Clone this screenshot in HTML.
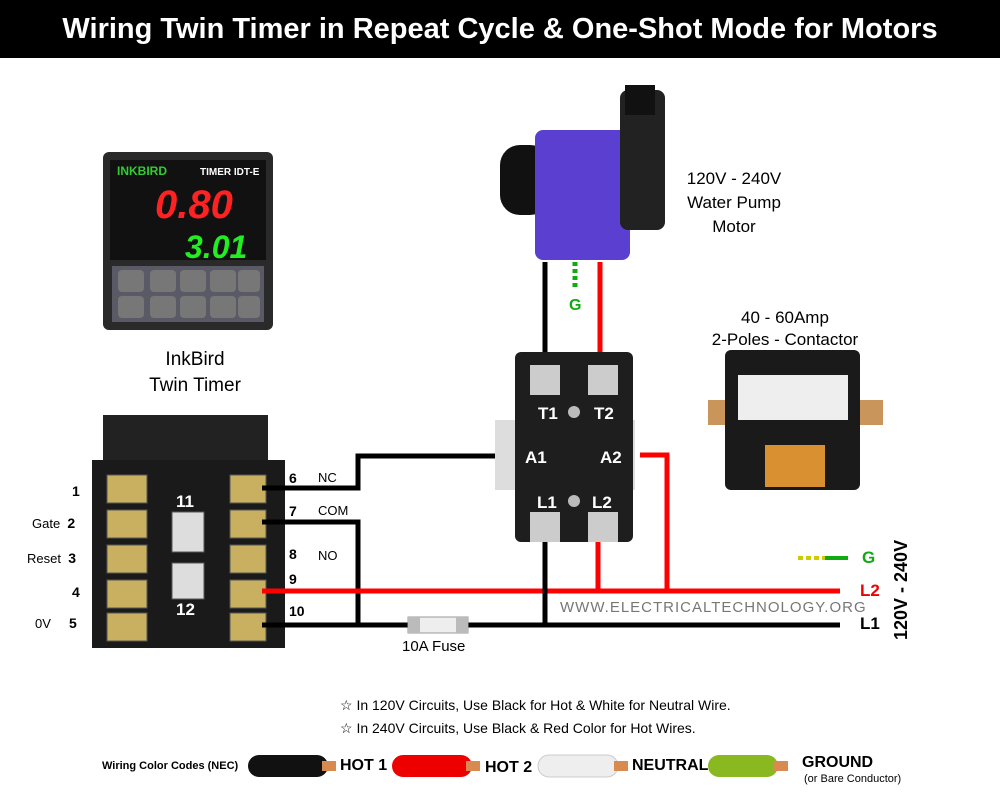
<!DOCTYPE html>
<html><head><meta charset="utf-8"><style>
body{margin:0;width:1000px;height:800px;background:#fff;overflow:hidden;font-family:"Liberation Sans",sans-serif;}
.t{position:absolute;font-weight:bold;color:#000;}
</style></head><body>
<div style="position:absolute;left:0;top:0;width:1000px;height:58px;background:#000;color:#fff;font-weight:bold;font-size:29px;text-align:center;line-height:58px;">Wiring Twin Timer in Repeat Cycle &amp; One-Shot Mode for Motors</div>
<svg width="1000" height="800" style="position:absolute;left:0;top:0">
<rect x="103" y="152" width="170" height="178" rx="6" fill="#2a2a2a"/>
<rect x="110" y="160" width="156" height="100" fill="#111"/>
<text x="117" y="175" font-size="12" fill="#3c3" font-weight="bold" font-family="Liberation Sans">INKBIRD</text>
<text x="200" y="175" font-size="10" fill="#fff" font-weight="bold" font-family="Liberation Sans">TIMER IDT-E</text>
<text x="155" y="218" font-size="40" fill="#f22" font-weight="bold" font-style="italic" font-family="Liberation Sans">0.80</text>
<text x="185" y="258" font-size="32" fill="#2e2" font-weight="bold" font-style="italic" font-family="Liberation Sans">3.01</text>
<rect x="112" y="266" width="152" height="56" fill="#5a5a66"/>
<g fill="#777"><rect x="118" y="270" width="26" height="22" rx="4"/><rect x="118" y="296" width="26" height="22" rx="4"/>
<rect x="150" y="270" width="26" height="22" rx="4"/><rect x="150" y="296" width="26" height="22" rx="4"/>
<rect x="180" y="270" width="26" height="22" rx="4"/><rect x="180" y="296" width="26" height="22" rx="4"/>
<rect x="210" y="270" width="26" height="22" rx="4"/><rect x="210" y="296" width="26" height="22" rx="4"/>
<rect x="238" y="270" width="22" height="22" rx="4"/><rect x="238" y="296" width="22" height="22" rx="4"/></g>
<rect x="103" y="415" width="165" height="60" fill="#222"/>
<rect x="92" y="460" width="193" height="188" fill="#1a1a1a"/>
<g fill="#c8b060" stroke="#555">
<rect x="107" y="475" width="40" height="28"/><rect x="107" y="510" width="40" height="28"/><rect x="107" y="545" width="40" height="28"/><rect x="107" y="580" width="40" height="28"/><rect x="107" y="613" width="40" height="28"/>
<rect x="230" y="475" width="36" height="28"/><rect x="230" y="510" width="36" height="28"/><rect x="230" y="545" width="36" height="28"/><rect x="230" y="580" width="36" height="28"/><rect x="230" y="613" width="36" height="28"/>
<rect x="172" y="512" width="32" height="40" fill="#ddd"/><rect x="172" y="563" width="32" height="36" fill="#ddd"/></g>
<text x="176" y="507" font-size="17" fill="#fff" font-weight="bold" font-family="Liberation Sans">11</text>
<text x="176" y="615" font-size="17" fill="#fff" font-weight="bold" font-family="Liberation Sans">12</text>
<g fill="none" stroke-width="5">
<polyline points="262,488 358,488 358,456 502,456" stroke="#000"/>
<polyline points="262,522 358,522 358,625" stroke="#000"/>
<line x1="262" y1="625" x2="840" y2="625" stroke="#000"/>
<line x1="262" y1="591" x2="840" y2="591" stroke="#f00"/>
<polyline points="640,455 667,455 667,591" stroke="#f00"/>
<line x1="598" y1="540" x2="598" y2="591" stroke="#f00"/>
<line x1="545" y1="540" x2="545" y2="625" stroke="#000"/>
<line x1="545" y1="262" x2="545" y2="365" stroke="#000"/>
<line x1="600" y1="262" x2="600" y2="365" stroke="#f00"/>
</g>
<line x1="575" y1="262" x2="575" y2="290" stroke="#1a1" stroke-width="5" stroke-dasharray="4,3"/>
<line x1="798" y1="558" x2="848" y2="558" stroke="#cc0" stroke-width="4" stroke-dasharray="5,3"/>
<line x1="825" y1="558" x2="848" y2="558" stroke="#1a1" stroke-width="4"/>
<rect x="408" y="617" width="60" height="16" fill="#eee" stroke="#999"/>
<rect x="408" y="617" width="12" height="16" fill="#bbb"/><rect x="456" y="617" width="12" height="16" fill="#bbb"/>
<rect x="500" y="145" width="50" height="70" rx="20" fill="#111"/>
<rect x="535" y="130" width="95" height="130" rx="8" fill="#5b3fd0"/>
<rect x="620" y="90" width="45" height="140" rx="8" fill="#222"/>
<rect x="625" y="85" width="30" height="30" fill="#111"/>
<rect x="495" y="420" width="140" height="70" fill="#ddd"/>
<rect x="515" y="352" width="118" height="190" rx="6" fill="#1e1e1e"/>
<rect x="530" y="365" width="30" height="30" fill="#ccc"/><rect x="588" y="365" width="30" height="30" fill="#ccc"/>
<rect x="530" y="512" width="30" height="30" fill="#ccc"/><rect x="588" y="512" width="30" height="30" fill="#ccc"/>
<circle cx="574" cy="412" r="6" fill="#bbb"/><circle cx="574" cy="501" r="6" fill="#bbb"/>
<g fill="#fff" font-size="17" font-weight="bold" font-family="Liberation Sans">
<text x="538" y="419">T1</text><text x="594" y="419">T2</text><text x="525" y="463">A1</text><text x="600" y="463">A2</text><text x="537" y="508">L1</text><text x="592" y="508">L2</text></g>
<rect x="708" y="400" width="175" height="25" fill="#c9955a"/>
<rect x="725" y="350" width="135" height="140" rx="6" fill="#1a1a1a"/>
<rect x="738" y="375" width="110" height="45" fill="#eee"/>
<rect x="765" y="445" width="60" height="42" fill="#d89030"/>
<rect x="248" y="755" width="80" height="22" rx="11" fill="#111"/><rect x="322" y="761" width="14" height="10" fill="#d88a50"/>
<rect x="392" y="755" width="80" height="22" rx="11" fill="#e00"/><rect x="466" y="761" width="14" height="10" fill="#d88a50"/>
<rect x="538" y="755" width="80" height="22" rx="11" fill="#eee" stroke="#ccc"/><rect x="614" y="761" width="14" height="10" fill="#d88a50"/>
<rect x="708" y="755" width="70" height="22" rx="11" fill="#8ab820"/><rect x="774" y="761" width="14" height="10" fill="#d88a50"/>
<text transform="translate(907,640) rotate(-90)" font-size="18" font-weight="bold" font-family="Liberation Sans">120V - 240V</text>
</svg>
<div class="t" style="left:684px;top:167px;font-weight:normal;font-size:17px;text-align:center;width:100px;line-height:24px;">120V - 240V<br>Water Pump<br>Motor</div>
<div class="t" style="left:569px;top:297px;color:#1a1;font-size:16px;">G</div>
<div class="t" style="left:690px;top:307px;font-weight:normal;font-size:17px;text-align:center;width:190px;line-height:22px;">40 - 60Amp<br>2-Poles - Contactor</div>
<div class="t" style="left:135px;top:347px;font-weight:normal;font-size:19px;text-align:center;width:120px;line-height:26px;">InkBird<br>Twin Timer</div>
<div class="t" style="left:72px;top:483px;font-size:14px;">1</div>
<div class="t" style="left:32px;top:515px;font-size:13px;font-weight:normal;">Gate&nbsp;&nbsp;<b style="font-size:14px">2</b></div>
<div class="t" style="left:27px;top:550px;font-size:13px;font-weight:normal;">Reset&nbsp;&nbsp;<b style="font-size:14px">3</b></div>
<div class="t" style="left:72px;top:584px;font-size:14px;">4</div>
<div class="t" style="left:35px;top:615px;font-size:13px;font-weight:normal;">0V&nbsp;&nbsp;&nbsp;&nbsp;&nbsp;<b style="font-size:14px">5</b></div>
<div class="t" style="left:289px;top:470px;font-size:14px;">6</div><div class="t" style="left:318px;top:470px;font-size:13px;font-weight:normal;">NC</div>
<div class="t" style="left:289px;top:503px;font-size:14px;">7</div><div class="t" style="left:318px;top:503px;font-size:13px;font-weight:normal;">COM</div>
<div class="t" style="left:289px;top:546px;font-size:14px;">8</div><div class="t" style="left:318px;top:548px;font-size:13px;font-weight:normal;">NO</div>
<div class="t" style="left:289px;top:571px;font-size:14px;">9</div>
<div class="t" style="left:289px;top:603px;font-size:14px;">10</div>
<div class="t" style="left:402px;top:638px;font-size:15px;font-weight:normal;">10A Fuse</div>
<div class="t" style="left:560px;top:599px;font-size:15px;font-weight:normal;color:#777;letter-spacing:1px;">WWW.ELECTRICALTECHNOLOGY.ORG</div>
<div class="t" style="left:862px;top:548px;font-size:17px;color:#1a1;">G</div>
<div class="t" style="left:860px;top:581px;font-size:17px;color:#e00;">L2</div>
<div class="t" style="left:860px;top:614px;font-size:17px;">L1</div>
<div class="t" style="left:340px;top:697px;font-size:14px;font-weight:normal;">☆ In 120V Circuits, Use Black for Hot &amp; White for Neutral Wire.</div>
<div class="t" style="left:340px;top:720px;font-size:14px;font-weight:normal;">☆ In 240V Circuits, Use Black &amp; Red Color for Hot Wires.</div>
<div class="t" style="left:102px;top:760px;font-size:11px;">Wiring Color Codes (NEC)</div>
<div class="t" style="left:340px;top:757px;font-size:16px;">HOT 1</div>
<div class="t" style="left:485px;top:759px;font-size:16px;">HOT 2</div>
<div class="t" style="left:632px;top:757px;font-size:16px;">NEUTRAL</div>
<div class="t" style="left:802px;top:754px;font-size:16px;">GROUND</div>
<div class="t" style="left:804px;top:773px;font-size:11px;font-weight:normal;">(or Bare Conductor)</div>
</body></html>
